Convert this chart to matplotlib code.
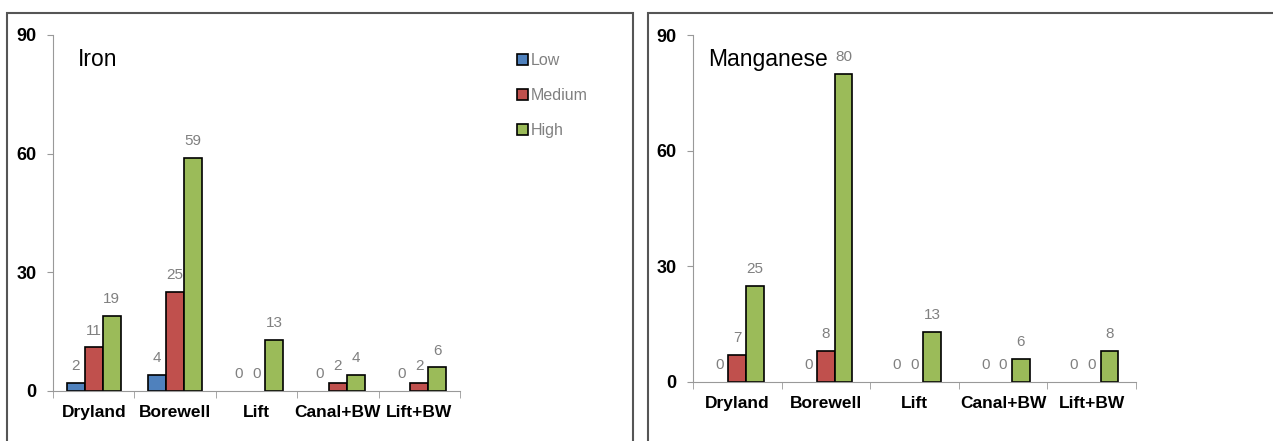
import numpy as np
import matplotlib
matplotlib.use('Agg')
from matplotlib import pyplot as plt
from matplotlib.patches import Rectangle

categories = ['Dryland', 'Borewell', 'Lift', 'Canal+BW', 'Lift+BW']
series = ['Low', 'Medium', 'High']
iron_low = [2, 4, 0, 0, 0]
iron_medium = [11, 25, 0, 2, 2]
iron_high = [19, 59, 13, 4, 6]
mn_low = [0, 0, 0, 0, 0]
mn_medium = [7, 8, 0, 0, 0]
mn_high = [25, 80, 13, 6, 8]
yticks = [0, 30, 60, 90]

colors = ['#4F81BD', '#C0504D', '#9BBB59']

plt.rcParams['font.family'] = ['Liberation Sans', 'DejaVu Sans']

fig = plt.figure(figsize=(12.73, 4.41), dpi=100)

# panel frames
fig.patches.append(Rectangle((7/1273, -0.05), 626/1273, 1.05 - 13/441,
                             transform=fig.transFigure, fill=False,
                             edgecolor='#555555', linewidth=1.5))
fig.patches.append(Rectangle((648/1273, -0.05), 640/1273, 1.05 - 13/441,
                             transform=fig.transFigure, fill=False,
                             edgecolor='#555555', linewidth=1.5))

ax1 = fig.add_axes([53/1273, 0.1134, 0.3197, 0.8073])
ax2 = fig.add_axes([693/1273, 0.1338, 0.348, 0.7868])


def draw(ax, data, title, width, tx, legend=False):
    x = np.arange(len(categories))
    for i, (vals, c, name) in enumerate(zip(data, colors, series)):
        pos = x + (i - 1) * width
        lw = [1.2 if v > 0 else 0 for v in vals]
        ax.bar(pos, vals, width, color=c, edgecolor='black',
               linewidth=lw, label=name)
        for p, v in zip(pos, vals):
            ax.annotate(str(v), (p, v), xytext=(0, 7), textcoords='offset points',
                        ha='center', va='bottom', fontsize=11, color='#808080')
    ax.set_xlim(-0.5, len(categories) - 0.5)
    ax.set_ylim(0, 90)
    ax.set_yticks(yticks)
    ax.set_yticklabels([str(t) for t in yticks], fontsize=13, fontweight='bold')
    ax.set_xticks(x)
    ax.set_xticklabels(categories, fontsize=12.5, fontweight='bold')
    ax.set_xticks(np.arange(len(categories) + 1) - 0.5, minor=True)
    ax.tick_params(axis='x', which='major', length=0, pad=10)
    ax.tick_params(axis='x', which='minor', length=5, color='#999999')
    ax.tick_params(axis='y', length=4, color='#999999', pad=8)
    for s in ['top', 'right']:
        ax.spines[s].set_visible(False)
    for s in ['left', 'bottom']:
        ax.spines[s].set_color('#999999')
    ax.text(tx, 0.93, title, transform=ax.transAxes, fontsize=16.5,
            va='center', ha='left')
    if legend:
        h = ax.legend(loc='upper right', bbox_to_anchor=(1.35, 0.99), frameon=False,
                      fontsize=11.5, handlelength=0.7, handleheight=0.7,
                      handletextpad=0.2, labelspacing=1.25, labelcolor='#808080')
        for p in h.get_patches():
            p.set_linewidth(1.2)


draw(ax1, [iron_low, iron_medium, iron_high], 'Iron', 0.22, 0.06, legend=True)
draw(ax2, [mn_low, mn_medium, mn_high], 'Manganese', 0.2, 0.034)

fig.savefig('out.png', dpi=100)
